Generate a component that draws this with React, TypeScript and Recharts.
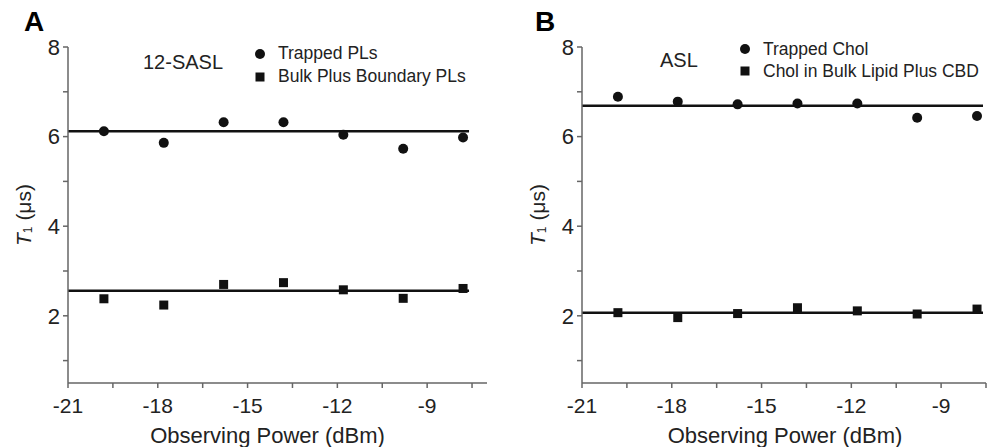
import React from "react";
import { ComposedChart, Scatter, Line, XAxis, YAxis } from "recharts";

// observing power (dBm) for every measured point
const powerLevels = [-19.8, -17.8, -15.8, -13.8, -11.8, -9.8, -7.8];

// panel A (12-SASL)
const trappedPLs = [6.12, 5.86, 6.32, 6.32, 6.04, 5.73, 5.98];
const bulkBoundaryPLs = [2.38, 2.24, 2.7, 2.74, 2.58, 2.39, 2.61];
const fitTrappedPLs = 6.12;
const fitBulkPLs = 2.56;

// panel B (ASL)
const trappedChol = [6.89, 6.78, 6.72, 6.74, 6.74, 6.42, 6.46];
const cholBulkCBD = [2.07, 1.96, 2.05, 2.18, 2.11, 2.04, 2.15];
const fitTrappedChol = 6.69;
const fitCholBulk = 2.07;

const fitRange = [-21, -7.6];
const yTicks = [1, 2, 3, 4, 5, 6, 7, 8];
const yMajor = [2, 4, 6, 8];
const xTicks = [-21, -19.5, -18, -16.5, -15, -13.5, -12, -10.5, -9, -7.5];
const xMajor = [-21, -18, -15, -12, -9];

const FONT = '"Liberation Sans", Arial, sans-serif';
const INK = "#111";
const AXIS = "#666";
const TEXT = "#222";

const toPoints = (ys: number[]) => powerLevels.map((x, i) => ({ x, y: ys[i] }));
const toFit = (y: number) => fitRange.map((x) => ({ x, y }));

const Dot = (p: any) => <circle cx={p.cx} cy={p.cy} r={5} fill={INK} />;
const Box = (p: any) => <rect x={p.cx - 4.5} y={p.cy - 4.5} width={9} height={9} fill={INK} />;

const YTitle = ({ viewBox, dxPos }: any) => {
  const cx = viewBox.x + dxPos;
  const cy = viewBox.y + viewBox.height / 2;
  return (
    <text
      x={cx}
      y={cy}
      transform={`rotate(-90, ${cx}, ${cy})`}
      textAnchor="middle"
      dominantBaseline="central"
      fontSize={21}
      fill={TEXT}
      fontFamily={FONT}
    >
      <tspan fontStyle="italic">T</tspan>
      <tspan fontSize={12} dy={5}>1</tspan>
      <tspan dy={-5}> (μs)</tspan>
    </text>
  );
};

const LegendRow = ({ kind, label, h }: { kind: string; label: string; h: number }) => (
  <div style={{ display: "flex", alignItems: "center", height: h }}>
    <svg width={12} height={12} style={{ marginRight: 12 }}>
      {kind === "square" ? (
        <rect x={1.5} y={1.5} width={9} height={9} fill={INK} />
      ) : (
        <circle cx={6} cy={6} r={5} fill={INK} />
      )}
    </svg>
    <span style={{ whiteSpace: "nowrap" }}>{label}</span>
  </div>
);

type PanelProps = {
  letter: string;
  letterLeft: number;
  tag: string;
  tagPos: { left: number; top: number };
  left: number;
  yAxisWidth: number;
  right: number;
  xMax: number;
  titleX: number;
  xTitleShift: number;
  legendPos: { left: number; top: number };
  rowH: number;
  circles: number[];
  squares: number[];
  circleName: string;
  squareName: string;
  fitCircle: number;
  fitSquare: number;
};

const Panel = (p: PanelProps) => (
  <div style={{ position: "absolute", left: p.left, top: 0, width: 495, height: 447 }}>
    <ComposedChart width={495} height={447} margin={{ top: 47, right: p.right, bottom: 0, left: 0 }}>
      <XAxis
        type="number"
        dataKey="x"
        domain={[-21, p.xMax]}
        ticks={xTicks.filter((t) => t <= p.xMax)}
        tickFormatter={(v: number) => (xMajor.includes(v) ? String(v) : "")}
        allowDataOverflow
        height={64}
        stroke={AXIS}
        strokeWidth={1.5}
        tickSize={5}
        tickMargin={10}
        tick={{ fill: TEXT, fontSize: 21, fontFamily: FONT }}
        label={{
          value: "Observing Power (dBm)",
          position: "insideBottom",
          offset: 4,
          dx: p.xTitleShift,
          fill: TEXT,
          fontSize: 22,
          fontFamily: FONT,
        }}
      />
      <YAxis
        type="number"
        domain={[0.5, 8]}
        ticks={yTicks}
        tickFormatter={(v: number) => (yMajor.includes(v) ? String(v) : "")}
        allowDataOverflow
        width={p.yAxisWidth}
        stroke={AXIS}
        strokeWidth={1.5}
        tickSize={5}
        tickMargin={3}
        tick={{ fill: TEXT, fontSize: 22, fontFamily: FONT }}
        label={<YTitle dxPos={p.titleX} />}
      />
      <Line
        data={toFit(p.fitCircle)}
        dataKey="y"
        stroke={INK}
        strokeWidth={2.5}
        dot={false}
        isAnimationActive={false}
      />
      <Line
        data={toFit(p.fitSquare)}
        dataKey="y"
        stroke={INK}
        strokeWidth={2.5}
        dot={false}
        isAnimationActive={false}
      />
      <Scatter
        name={p.circleName}
        data={toPoints(p.circles)}
        dataKey="y"
        fill={INK}
        shape={Dot}
        isAnimationActive={false}
      />
      <Scatter
        name={p.squareName}
        data={toPoints(p.squares)}
        dataKey="y"
        fill={INK}
        shape={Box}
        isAnimationActive={false}
      />
    </ComposedChart>
    <div
      style={{
        position: "absolute",
        left: p.legendPos.left,
        top: p.legendPos.top,
        fontFamily: FONT,
        fontSize: 17.5,
        color: TEXT,
      }}
    >
      <LegendRow kind="circle" label={p.circleName} h={p.rowH} />
      <LegendRow kind="square" label={p.squareName} h={p.rowH} />
    </div>
    <div
      style={{
        position: "absolute",
        left: p.tagPos.left,
        top: p.tagPos.top,
        fontFamily: FONT,
        fontSize: 20,
        color: TEXT,
        lineHeight: "20px",
      }}
    >
      {p.tag}
    </div>
    <div
      style={{
        position: "absolute",
        left: p.letterLeft,
        top: 8,
        fontFamily: FONT,
        fontSize: 28,
        fontWeight: "bold",
        color: "#000",
        lineHeight: "28px",
      }}
    >
      {p.letter}
    </div>
  </div>
);

export default function App() {
  return (
    <div style={{ position: "absolute", left: 0, top: 0, width: 990, height: 447, background: "#fff" }}>
      <Panel
        letter="A"
        letterLeft={24}
        tag="12-SASL"
        tagPos={{ left: 143, top: 52 }}
        left={0}
        yAxisWidth={68}
        right={8}
        xMax={-7}
        titleX={23}
        xTitleShift={-10}
        legendPos={{ left: 254, top: 42 }}
        rowH={23}
        circles={trappedPLs}
        squares={bulkBoundaryPLs}
        circleName="Trapped PLs"
        squareName="Bulk Plus Boundary PLs"
        fitCircle={fitTrappedPLs}
        fitSquare={fitBulkPLs}
      />
      <Panel
        letter="B"
        letterLeft={40}
        tag="ASL"
        tagPos={{ left: 165, top: 50 }}
        left={495}
        yAxisWidth={87}
        right={4}
        xMax={-7.5}
        titleX={42}
        xTitleShift={1}
        legendPos={{ left: 244, top: 38 }}
        rowH={22}
        circles={trappedChol}
        squares={cholBulkCBD}
        circleName="Trapped Chol"
        squareName="Chol in Bulk Lipid Plus CBD"
        fitCircle={fitTrappedChol}
        fitSquare={fitCholBulk}
      />
    </div>
  );
}
